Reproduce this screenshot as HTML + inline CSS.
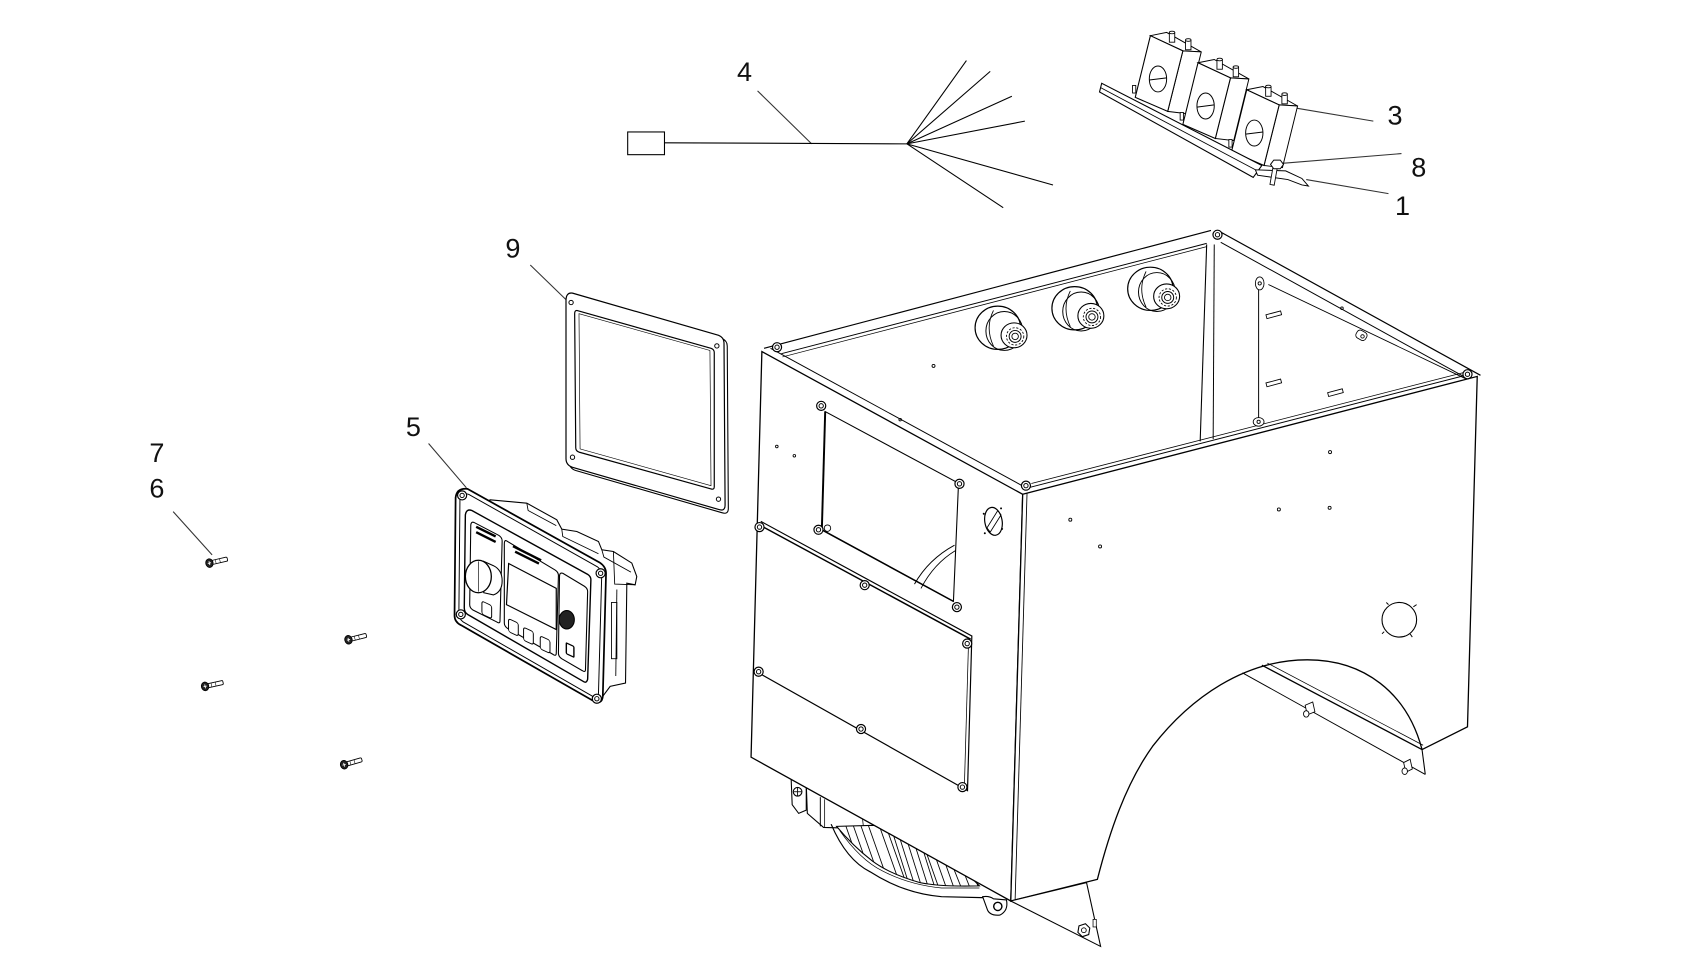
<!DOCTYPE html>
<html><head><meta charset="utf-8"><style>
html,body{margin:0;padding:0;background:#fff;}
svg{display:block;}
text{font-family:"Liberation Sans",Arial,sans-serif;font-size:25px;fill:#111;}
</style></head><body>
<svg width="1698" height="954" viewBox="0 0 1569 882" preserveAspectRatio="none" xmlns="http://www.w3.org/2000/svg">
<defs>
<g id="relay">
  <path d="M0,0 L15,-3 L47,15 L30,14 Z" fill="#fff" stroke="#000" stroke-width="0.9"/>
  <path d="M30,14 L47,15 L33,72 L16,70 Z" fill="#fff" stroke="#000" stroke-width="0.9"/>
  <path d="M0,0 L30,14 L16,70 L-14,57 Z" fill="#fff" stroke="#000" stroke-width="1"/>
  <ellipse cx="7" cy="40" rx="8" ry="12" fill="none" stroke="#000" stroke-width="0.9"/>
  <line x1="-1" y1="41" x2="15" y2="39" stroke="#000" stroke-width="0.9"/>
  <rect x="17.5" y="-3" width="5" height="9" fill="#fff" stroke="#000" stroke-width="0.8"/>
  <ellipse cx="20" cy="-3" rx="2.5" ry="1.2" fill="#fff" stroke="#000" stroke-width="0.8"/>
  <rect x="32.5" y="4" width="5" height="9" fill="#fff" stroke="#000" stroke-width="0.8"/>
  <ellipse cx="35" cy="4" rx="2.5" ry="1.2" fill="#fff" stroke="#000" stroke-width="0.8"/>
  <rect x="-16.5" y="46" width="3" height="7" fill="#fff" stroke="#000" stroke-width="0.8"/>
</g>
<g id="screw">
  <rect x="2" y="-1.9" width="15" height="3.8" rx="1" fill="#fff" stroke="#000" stroke-width="0.8"/>
  <line x1="6" y1="-1.9" x2="6" y2="1.9" stroke="#000" stroke-width="0.5"/>
  <line x1="10" y1="-1.9" x2="10" y2="1.9" stroke="#000" stroke-width="0.5"/>
  <ellipse cx="0" cy="0" rx="3.4" ry="4" fill="#222" stroke="#000" stroke-width="0.8"/>
  <line x1="-1.5" y1="0" x2="1.5" y2="0" stroke="#fff" stroke-width="0.8"/>
  <line x1="0" y1="-1.8" x2="0" y2="1.8" stroke="#fff" stroke-width="0.8"/>
</g>
<g id="nut">
  <circle r="4.2" fill="#fff" stroke="#000" stroke-width="1.1"/>
  <circle r="2" fill="none" stroke="#000" stroke-width="0.9"/>
</g>
<g id="grommet">
  <ellipse cx="0" cy="0" rx="21" ry="20" fill="#fff" stroke="#000" stroke-width="1.1"/>
  <ellipse cx="6" cy="3" rx="17" ry="18" fill="none" stroke="#000" stroke-width="0.9"/>
  <path d="M-4,-16 Q-12,0 -4,17" fill="none" stroke="#000" stroke-width="0.8"/>
  <ellipse cx="15" cy="7" rx="12" ry="11.5" fill="#fff" stroke="#000" stroke-width="1"/>
  <circle cx="16" cy="8" r="8" fill="none" stroke="#000" stroke-width="0.8" stroke-dasharray="2 1.5"/>
  <circle cx="16" cy="8" r="5.5" fill="#fff" stroke="#000" stroke-width="0.9"/>
  <circle cx="16" cy="8" r="3" fill="none" stroke="#000" stroke-width="0.8"/>
</g>
<clipPath id="hatch">
  <path d="M773,764 L808,763 L899,813 L905,819 Q870,820 850,816 Q822,808 806,796 Q788,782 773,764 Z"/>
</clipPath>
</defs>

<!-- ===== Labels & leaders ===== -->
<g stroke="#333" stroke-width="1">
  <line x1="700" y1="84" x2="750" y2="133"/>
  <line x1="1198" y1="100" x2="1269" y2="112"/>
  <line x1="1185" y1="151" x2="1295" y2="142"/>
  <line x1="1207" y1="166" x2="1283" y2="179"/>
  <line x1="490" y1="245" x2="525" y2="279"/>
  <line x1="396" y1="410" x2="431" y2="451"/>
  <line x1="160" y1="473" x2="196" y2="513"/>
</g>
<text x="688" y="75" text-anchor="middle">4</text>
<text x="1289" y="115" text-anchor="middle">3</text>
<text x="1311" y="163" text-anchor="middle">8</text>
<text x="1296" y="199" text-anchor="middle">1</text>
<text x="474" y="238" text-anchor="middle">9</text>
<text x="382" y="403" text-anchor="middle">5</text>
<text x="145" y="427" text-anchor="middle">7</text>
<text x="145" y="460" text-anchor="middle">6</text>

<!-- ===== Wire harness (4) ===== -->
<rect x="580" y="122" width="34" height="21" fill="#fff" stroke="#000" stroke-width="1"/>
<g stroke="#000" stroke-width="1">
  <line x1="614" y1="132" x2="838" y2="133"/>
  <line x1="838" y1="133" x2="893" y2="56"/>
  <line x1="838" y1="133" x2="915" y2="66"/>
  <line x1="838" y1="133" x2="935" y2="89"/>
  <line x1="838" y1="133" x2="947" y2="112"/>
  <line x1="838" y1="133" x2="973" y2="171"/>
  <line x1="838" y1="133" x2="927" y2="192"/>
</g>

<!-- ===== Relay module (3,8,1) ===== -->
<use href="#relay" x="1063" y="33"/>
<use href="#relay" x="1107" y="58"/>
<use href="#relay" x="1152" y="83"/>
<path d="M1016,85 L1018,77 L1166,153 L1158,164 Z" fill="#fff" stroke="#000" stroke-width="1"/>
<line x1="1017" y1="81" x2="1162" y2="158" stroke="#000" stroke-width="0.8"/>
<path d="M1160,157 L1188,158 L1203,165 L1209,172 L1203,171 L1190,166 L1162,162 Z" fill="#fff" stroke="#000" stroke-width="0.9"/>
<rect x="1175" y="153" width="4" height="18" fill="#fff" stroke="#000" stroke-width="0.8" transform="rotate(10 1177 162)"/>
<path d="M1177,148 L1183,148 L1186,152 L1183,156 L1177,156 L1174,152 Z" fill="#fff" stroke="#000" stroke-width="0.9"/>

<!-- ===== Gasket (9) ===== -->
<path d="M532,274 L667,313 Q672,315 672,320 L673,470 Q673,476 667,474 L532,435 Q526,433 526,427 L526,281 Q526,273 532,274 Z" fill="#fff" stroke="#000" stroke-width="1"/>
<path d="M529,271 L664,310 Q669,312 669,317 L670,467 Q670,473 664,471 L529,432 Q523,430 523,424 L523,278 Q523,270 529,271 Z" fill="#fff" stroke="#000" stroke-width="1.1"/>
<path d="M533,287 L657,322 Q660,323 660,326 L660,450 Q660,453 657,452 L535,418 Q532,417 532,414 L531,290 Q531,287 533,287 Z" fill="none" stroke="#000" stroke-width="1.1"/>
<path d="M535,290 L656,324 L657,449 L536,415 Z" fill="none" stroke="#000" stroke-width="0.6"/>
<g fill="none" stroke="#000" stroke-width="0.9">
  <circle cx="527.7" cy="279.7" r="2"/><circle cx="662.4" cy="319.8" r="2"/>
  <circle cx="663.9" cy="461.5" r="2"/><circle cx="529" cy="422.7" r="2"/>
</g>

<!-- ===== Control panel (5) ===== -->
<path d="M452.9,462.1 L486.8,465.2 L514.5,480.6 L519.1,489.2 L533,491.4 L553,500.6 L556.1,508.3 L566.8,509.9 L583.8,520.6 L588.4,533 L586.9,540.7 L579.2,539.1 L578,631.5 L563.8,634.6 L556,645 L440,470 Z" fill="#fff" stroke="#000" stroke-width="1"/>
<g stroke="#000" stroke-width="0.8" fill="none">
  <path d="M486.8,465.2 L488,472 L514,486"/>
  <path d="M519.1,489.2 L520,496 L553,512"/>
  <path d="M556.1,508.3 L558,515 L583,529"/>
  <path d="M566.8,509.9 L568,540 L586.9,540.7"/>
  <rect x="565" y="557" width="5" height="52" fill="#fff"/>
  <line x1="570" y1="545" x2="569" y2="625"/>
</g>
<path d="M432,452 L554,520 Q560,524 560,530 L557,644 Q556,651 550,649 L426,578 Q420,575 420,569 L421,460 Q422,451 432,452 Z" fill="#fff" stroke="#000" stroke-width="1.6"/>
<path d="M433,457 L552,524 Q556,527 556,532 L553,641 Q552,646 548,644 L428,575 Q424,572 424,568 L425,462 Q426,455 433,457 Z" fill="none" stroke="#000" stroke-width="0.9"/>
<path d="M436,472 L543,531 Q546,533 546,536 L543,628 Q542,632 539,630 L432,568 Q429,566 429,562 L430,476 Q431,470 436,472 Z" fill="#fff" stroke="#000" stroke-width="1.3"/>
<g fill="#fff" stroke="#000" stroke-width="1">
  <path d="M438,483 L461,495 Q464,497 464,500 L462,574 Q462,577 459,575 L437,564 Q434,562 434,559 L435,486 Q435,482 438,483 Z"/>
  <path d="M468,500 L513,527 Q516,529 516,532 L514,604 Q514,607 511,605 L469,581 Q466,579 466,576 L466,503 Q466,499 468,500 Z"/>
  <path d="M520,530 L540,542 Q543,544 543,547 L541,619 Q541,622 538,620 L519,609 Q516,607 516,604 L517,533 Q517,529 520,530 Z"/>
  <path d="M470,521 L514,544 L514,582 L468,559 Z" stroke-width="1.1"/>
</g>
<g stroke="#000" stroke-width="2.2">
  <line x1="440" y1="487" x2="458" y2="496"/>
  <line x1="440" y1="492" x2="458" y2="501"/>
  <line x1="474" y1="505" x2="500" y2="518"/>
  <line x1="476" y1="510" x2="498" y2="521"/>
</g>
<path d="M447,519 L456,523 Q464,527 464,537 Q464,547 456,550 L447,548 Z" fill="#fff" stroke="#000" stroke-width="1"/>
<ellipse cx="442" cy="533" rx="12" ry="15" fill="#fff" stroke="#000" stroke-width="1.2"/>
<line x1="442" y1="519" x2="442" y2="547" stroke="#000" stroke-width="0.6"/>
<ellipse cx="523.7" cy="573" rx="7" ry="8.5" fill="#222" stroke="#000"/>
<g fill="#fff" stroke="#000" stroke-width="0.9">
  <rect x="-4.5" y="-6" width="9" height="12" rx="2" transform="translate(449.8,563.8) skewY(25)"/>
  <rect x="-4.5" y="-6" width="9" height="12" rx="2" transform="translate(474.4,580) skewY(25)"/>
  <rect x="-4.5" y="-6" width="9" height="12" rx="2" transform="translate(488.3,588) skewY(25)"/>
  <rect x="-4.5" y="-6" width="9" height="12" rx="2" transform="translate(503.7,596) skewY(25)"/>
  <rect x="-3.5" y="-5" width="7" height="10" rx="1" transform="translate(526.8,601) skewY(25)" stroke-width="1.3"/>
</g>
<use href="#nut" x="427" y="458"/>
<use href="#nut" x="555" y="530"/>
<use href="#nut" x="551.5" y="646"/>
<use href="#nut" x="425.8" y="568"/>

<!-- ===== Screws (6,7) ===== -->
<use href="#screw" transform="translate(193.5,520.6) rotate(-13)"/>
<use href="#screw" transform="translate(322,591.5) rotate(-14)"/>
<use href="#screw" transform="translate(189.5,634.6) rotate(-12.5)"/>
<use href="#screw" transform="translate(318,707) rotate(-16)"/>

<!-- ===== Fan under box ===== -->
<path d="M731,719 L745,722 L745,749 L738,752 L732,744 Z" fill="#fff" stroke="#000" stroke-width="1"/>
<circle cx="737" cy="732" r="4" fill="#fff" stroke="#000" stroke-width="1"/>
<line x1="733.5" y1="732" x2="740.5" y2="732" stroke="#000" stroke-width="0.8"/>
<line x1="737" y1="728.5" x2="737" y2="735.5" stroke="#000" stroke-width="0.8"/>
<path d="M745,725 L810,762 L798,766 L761,765 L746,752 Z" fill="#fff" stroke="#000" stroke-width="1"/>
<line x1="758" y1="737" x2="758" y2="764" stroke="#000" stroke-width="0.9"/>
<line x1="762" y1="739" x2="762" y2="765" stroke="#000" stroke-width="0.7"/>
<line x1="797" y1="757" x2="798" y2="766" stroke="#000" stroke-width="0.7"/>
<path d="M773,764 L808,763 L899,813 L905,819 Q870,820 850,816 Q822,808 806,796 Q788,782 773,764 Z" fill="#fff" stroke="#000" stroke-width="1"/>
<g clip-path="url(#hatch)" stroke="#000" stroke-width="0.8">
  <line x1="775" y1="745" x2="805" y2="830"/><line x1="782" y1="745" x2="812" y2="830"/>
  <line x1="789" y1="745" x2="819" y2="830"/><line x1="796" y1="745" x2="826" y2="830"/>
  <line x1="806" y1="745" x2="836" y2="830"/><line x1="812" y1="745" x2="842" y2="830"/>
  <line x1="817" y1="745" x2="847" y2="840"/><line x1="822" y1="745" x2="852" y2="840"/>
  <line x1="828" y1="745" x2="858" y2="840"/><line x1="834" y1="745" x2="864" y2="840"/>
  <line x1="840" y1="745" x2="870" y2="840"/><line x1="846" y1="760" x2="876" y2="845"/>
  <line x1="853" y1="760" x2="883" y2="845"/><line x1="860" y1="760" x2="890" y2="845"/>
  <line x1="868" y1="770" x2="898" y2="845"/><line x1="876" y1="770" x2="906" y2="845"/>
  <line x1="884" y1="770" x2="914" y2="845"/>
</g>
<path d="M768,762 Q782,795 804,806 Q835,826 870,829 L912,830" fill="none" stroke="#000" stroke-width="1.1"/>
<path d="M776,768 Q795,795 815,805 Q840,818 870,821 L905,821" fill="none" stroke="#000" stroke-width="0.7"/>
<path d="M908,829 Q914,828 918,831 L930,832 Q932,842 924,846 Q914,847 912,840 Z" fill="#fff" stroke="#000" stroke-width="1"/>
<circle cx="922" cy="838" r="3.8" fill="none" stroke="#000" stroke-width="1.3"/>

<!-- ===== Box ===== -->
<!-- left panel -->
<path d="M704,325 L945,457 L934,833 L694,700 Z" fill="#fff" stroke="#000" stroke-width="1.2"/>
<!-- right panel -->
<path d="M945,457 L1365,348 L1356,672 L1314,693 C1300,640 1260,610 1208,610 C1150,610 1100,645 1065,690 C1040,725 1025,770 1014,813 L934,833 Z" fill="#fff" stroke="#000" stroke-width="1.2"/>
<line x1="949" y1="456" x2="938" y2="832" stroke="#000" stroke-width="0.8"/>
<!-- flap -->
<path d="M934,833 L1004,816 L1017,875 Z" fill="#fff" stroke="#000" stroke-width="1"/>
<path d="M997,856 L1003,854 L1007,858 L1006,864 L1000,866 L996,862 Z" fill="#fff" stroke="#000" stroke-width="1"/>
<circle cx="1001.5" cy="860" r="2.2" fill="none" stroke="#000" stroke-width="0.8"/>
<rect x="1010" y="850" width="3" height="7" fill="#fff" stroke="#000" stroke-width="0.7"/>
<!-- arch flange -->
<g stroke="#000" fill="none">
  <line x1="1166" y1="615" x2="1314" y2="693" stroke-width="1.2"/>
  <line x1="1171" y1="613" x2="1315" y2="689" stroke-width="0.7"/>
  <line x1="1148" y1="622" x2="1317" y2="716" stroke-width="0.9"/>
  <line x1="1314" y1="693" x2="1317" y2="716" stroke-width="1"/>
</g>
<g fill="#fff" stroke="#000" stroke-width="0.8">
  <path d="M1206,652 L1213,649 L1215,658 L1208,661 Z"/>
  <ellipse cx="1207" cy="660" rx="2.5" ry="3"/>
  <path d="M1297,705 L1303,702 L1305,711 L1299,714 Z"/>
  <ellipse cx="1298" cy="713" rx="2.5" ry="3"/>
</g>

<!-- top rim -->
<g stroke="#000" fill="none">
  <line x1="706" y1="322" x2="1119" y2="213" stroke-width="1.1"/>
  <line x1="722" y1="327" x2="1115" y2="225" stroke-width="0.9"/>
  <line x1="723" y1="330" x2="1115" y2="228" stroke-width="0.7"/>
  <line x1="1127" y1="214" x2="1368" y2="347" stroke-width="1.1"/>
  <line x1="1128" y1="224" x2="1356" y2="350" stroke-width="0.9"/>
  <line x1="712" y1="322" x2="950" y2="452" stroke-width="0.9"/>
  <line x1="950" y1="451" x2="1358" y2="346" stroke-width="0.9"/>
  <line x1="953" y1="447" x2="1354" y2="344" stroke-width="0.7"/>
  <!-- back inner corner -->
  <line x1="1115" y1="226" x2="1109" y2="408" stroke-width="1"/>
  <line x1="1122" y1="226" x2="1121" y2="406" stroke-width="0.9"/>
  <!-- inner right wall -->
  <line x1="1163" y1="258" x2="1163" y2="390" stroke-width="0.9"/>
  <line x1="1172" y1="263" x2="1354" y2="350" stroke-width="0.8"/>
</g>
<g fill="#fff" stroke="#000" stroke-width="0.8">
  <ellipse cx="1164" cy="262" rx="4" ry="6"/>
  <circle cx="1164" cy="262" r="1.5"/>
  <ellipse cx="1163" cy="390" rx="5" ry="4"/>
  <circle cx="1163" cy="390" r="1.5"/>
  <rect x="-7" y="-1.8" width="14" height="3.6" transform="translate(1177,291) rotate(-15)"/>
  <rect x="-7" y="-1.8" width="14" height="3.6" transform="translate(1177,354) rotate(-15)"/>
  <rect x="-7" y="-1.8" width="14" height="3.6" transform="translate(1234,363) rotate(-15)"/>
  <rect x="-5" y="-4" width="10" height="8" rx="3" transform="translate(1258,310) rotate(30)"/>
  <circle cx="1259" cy="311" r="1.6"/>
</g>
<use href="#nut" x="718" y="321"/>
<use href="#nut" x="1125" y="217"/>
<use href="#nut" x="1356" y="346"/>
<use href="#nut" x="948" y="449"/>

<!-- grommets -->
<use href="#grommet" x="922" y="303"/>
<use href="#grommet" x="993" y="285"/>
<use href="#grommet" x="1063" y="267"/>

<!-- window in left panel -->
<path d="M762.5,380.5 L885.7,446.7 L881,556 L759.4,489.8 Z" fill="#fff" stroke="#000" stroke-width="1"/>
<line x1="762.5" y1="380.5" x2="759.4" y2="489.8" stroke="#000" stroke-width="1.8"/>
<line x1="759.4" y1="489.8" x2="881" y2="556" stroke="#000" stroke-width="1.4"/>
<path d="M845,540 Q858,517 882,504" fill="none" stroke="#000" stroke-width="0.9"/>
<path d="M851,544 Q863,521 883,509" fill="none" stroke="#000" stroke-width="0.8"/>
<circle cx="764.6" cy="488.3" r="3" fill="#fff" stroke="#000" stroke-width="0.8"/>
<use href="#nut" x="758.8" y="375.2"/>
<use href="#nut" x="886.6" y="447.3"/>
<use href="#nut" x="756.3" y="489.8"/>
<use href="#nut" x="884.2" y="561.3"/>

<!-- cover plate -->
<path d="M703,482 L898,588 L894,731 L699,621" fill="none" stroke="#000" stroke-width="1.1"/>
<line x1="703" y1="486" x2="897" y2="591" stroke="#000" stroke-width="1.4"/>
<line x1="895" y1="592" x2="891" y2="731" stroke="#000" stroke-width="0.7"/>
<use href="#nut" x="701.8" y="487.3"/>
<use href="#nut" x="799" y="541"/>
<use href="#nut" x="893.7" y="595"/>
<use href="#nut" x="701" y="621"/>
<use href="#nut" x="795.6" y="674"/>
<use href="#nut" x="889.3" y="727.7"/>

<!-- left panel grommet -->
<ellipse cx="918" cy="482" rx="8" ry="13" fill="#fff" stroke="#000" stroke-width="1.1" transform="rotate(-10 918 482)"/>
<path d="M912,488 L922,472 L925,476 L915,492 Z" fill="none" stroke="#000" stroke-width="0.8"/>
<g fill="#000"><circle cx="909" cy="475" r="0.9"/><circle cx="925" cy="470" r="0.9"/><circle cx="910" cy="493" r="0.9"/><circle cx="926" cy="489" r="0.9"/></g>

<!-- right panel knockout -->
<circle cx="1293" cy="573" r="16" fill="#fff" stroke="#000" stroke-width="1"/>
<g stroke="#000" stroke-width="0.9">
  <line x1="1283" y1="559" x2="1281" y2="557"/><line x1="1306" y1="561" x2="1309" y2="559"/>
  <line x1="1279" y1="584" x2="1277" y2="586"/><line x1="1303" y1="586" x2="1305" y2="589"/>
</g>

<!-- dots -->
<g fill="none" stroke="#000" stroke-width="0.8">
  <circle cx="862.6" cy="338.3" r="1.4"/><circle cx="831.8" cy="388" r="1.2"/>
  <circle cx="717.8" cy="412.8" r="1.2"/><circle cx="734" cy="421.4" r="1.2"/>
  <circle cx="989" cy="480.5" r="1.4"/><circle cx="1016.5" cy="505.2" r="1.4"/>
  <circle cx="1181.7" cy="471" r="1.4"/><circle cx="1228.6" cy="469.5" r="1.4"/>
  <circle cx="1229" cy="418" r="1.4"/><circle cx="1240" cy="285" r="1.2"/>
</g>
</svg>
</body></html>
